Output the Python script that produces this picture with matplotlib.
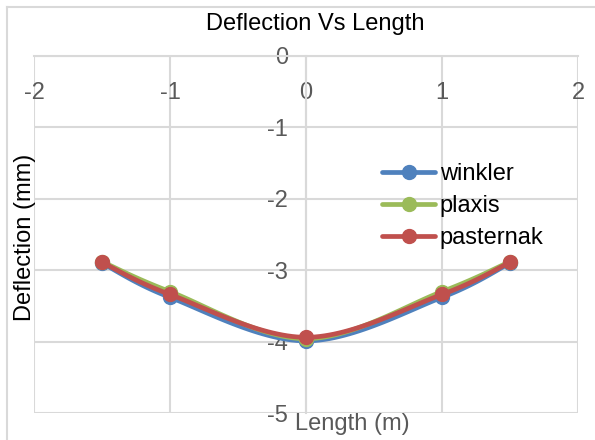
import numpy as np
import matplotlib
matplotlib.use("Agg")
import matplotlib.pyplot as plt
from matplotlib.lines import Line2D

# Deflection profile along the beam for three foundation models
length_m = [-1.5, -1.0, 0.0, 1.0, 1.5]
winkler = [-2.90, -3.38, -3.99, -3.38, -2.90]
plaxis = [-2.88, -3.30, -3.96, -3.30, -2.88]
pasternak = [-2.89, -3.34, -3.94, -3.34, -2.89]

series_names = ["winkler", "plaxis", "pasternak"]
series_colors = ["#4F81BD", "#9BBB59", "#C0504D"]
x_ticks = [-2, -1, 0, 1, 2]
y_ticks = [0, -1, -2, -3, -4, -5]

GRID = "#D9D9D9"
TEXT_GRAY = "#595959"
W, H = 595, 440
DPI = 100


def smooth_curve(x, y, n=30):
    """Bezier smoothing through every point (Catmull-Rom style control points)."""
    x = np.asarray(x, float)
    y = np.asarray(y, float)
    px = np.concatenate([[x[0]], x, [x[-1]]])
    py = np.concatenate([[y[0]], y, [y[-1]]])
    out_x, out_y = [], []
    t = np.linspace(0, 1, n, endpoint=False)
    for i in range(1, len(px) - 2):
        p0 = np.array([px[i], py[i]])
        p1 = np.array([px[i + 1], py[i + 1]])
        c1 = p0 + (p1 - np.array([px[i - 1], py[i - 1]])) / 6.0
        c2 = p1 - (np.array([px[i + 2], py[i + 2]]) - p0) / 6.0
        b = ((1 - t) ** 3)[:, None] * p0 + (3 * (1 - t) ** 2 * t)[:, None] * c1 \
            + (3 * (1 - t) * t ** 2)[:, None] * c2 + (t ** 3)[:, None] * p1
        out_x.extend(b[:, 0])
        out_y.extend(b[:, 1])
    out_x.append(x[-1])
    out_y.append(y[-1])
    marks = [i * n for i in range(len(x))]
    return np.array(out_x), np.array(out_y), marks


fig = plt.figure(figsize=(W / DPI, H / DPI), dpi=DPI)
plt.rcParams["font.family"] = ["Liberation Sans", "DejaVu Sans"]


def px_to_fig(x, y):
    return x / W, 1 - y / H


# axes area in pixels
left, right, top, bottom = 34, 578, 56, 413
ax = fig.add_axes([left / W, 1 - bottom / H, (right - left) / W, (bottom - top) / H])

ax.set_xlim(-2, 2)
ax.set_ylim(-5, 0)
ax.set_xticks(x_ticks)
ax.set_yticks(y_ticks)
ax.grid(True, color=GRID, linewidth=1.5)
ax.set_axisbelow(True)
for gl in ax.get_xgridlines() + ax.get_ygridlines():
    gl.set_clip_on(False)

for s in ["top", "right"]:
    ax.spines[s].set_visible(False)
ax.spines["left"].set_position(("data", 0))
ax.spines["bottom"].set_position(("data", 0))
ax.spines["left"].set_color(GRID)
ax.spines["bottom"].set_color(GRID)
ax.spines["left"].set_linewidth(1.5)
ax.spines["bottom"].set_linewidth(1.5)

ax.tick_params(axis="both", length=0, labelsize=17, labelcolor=TEXT_GRAY)
ax.tick_params(axis="x", pad=18.5)
ax.tick_params(axis="y", pad=13)
ax.set_xticklabels([str(v) for v in x_ticks])
ax.set_yticklabels([str(v) for v in y_ticks])

for name, vals, col in zip(series_names, [winkler, plaxis, pasternak], series_colors):
    sx, sy, marks = smooth_curve(length_m, vals)
    ax.plot(sx, sy, color=col, linewidth=3.4, marker="o", markersize=10,
            markevery=marks, markerfacecolor=col, markeredgecolor=col,
            solid_capstyle="round", clip_on=False, label=name, zorder=3)

leg = ax.legend(loc="upper left",
                bbox_to_anchor=(382 / W, 1 - 163 / H),
                bbox_transform=fig.transFigure,
                frameon=False, fontsize=17, handlelength=2.25,
                handletextpad=0.2, labelspacing=0.42, borderpad=0,
                borderaxespad=0)

# titles
fig.text(*px_to_fig(315, 24), "Deflection Vs Length", ha="center", va="center",
         fontsize=17, color="black")
fig.text(*px_to_fig(25, 237), "Deflection (mm)", ha="center", va="center",
         rotation=90, fontsize=17, color="black")
fig.text(*px_to_fig(352, 424), "Length (m)", ha="center", va="center",
         fontsize=17, color=TEXT_GRAY)

# chart area border
fig.add_artist(Line2D([7 / W, 7 / W], [0, 1 - 7 / H], transform=fig.transFigure,
                      color=GRID, linewidth=1.5))
fig.add_artist(Line2D([7 / W, 1], [1 - 7 / H, 1 - 7 / H], transform=fig.transFigure,
                      color=GRID, linewidth=1.5))

fig.savefig("out.png", dpi=DPI, facecolor="white")
